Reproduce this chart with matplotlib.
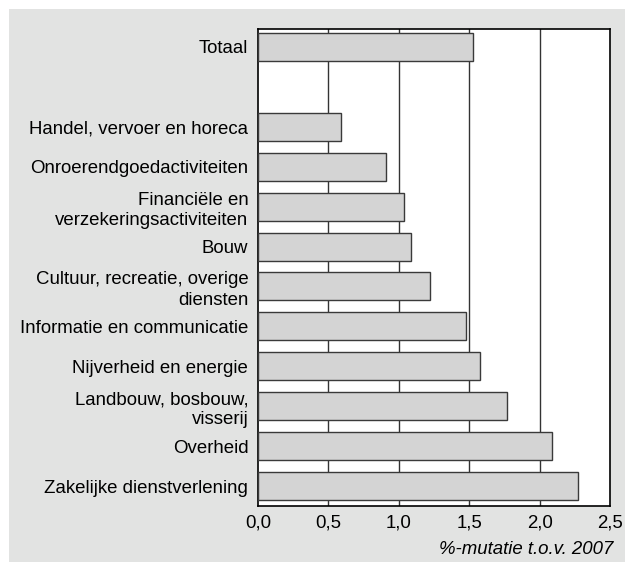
import matplotlib.pyplot as plt
import matplotlib.patches as mpatches

categories = ['Totaal', '',
              'Handel, vervoer en horeca',
              'Onroerendgoedactiviteiten',
              'Financiële en\nverzekeringsactiviteiten',
              'Bouw',
              'Cultuur, recreatie, overige\ndiensten',
              'Informatie en communicatie',
              'Nijverheid en energie',
              'Landbouw, bosbouw,\nvisserij',
              'Overheid',
              'Zakelijke dienstverlening']
values = [1.53, None, 0.59, 0.91, 1.04, 1.09, 1.22, 1.48, 1.58, 1.77, 2.09, 2.27]
xticks = [0.0, 0.5, 1.0, 1.5, 2.0, 2.5]
xticklabels = ['0,0', '0,5', '1,0', '1,5', '2,0', '2,5']

plt.rcParams['font.family'] = ['Liberation Sans', 'DejaVu Sans']

fig = plt.figure(figsize=(6.25, 5.62), dpi=100, facecolor='white')
# grijs paneel achter de grafiek
fig.patches.append(mpatches.Rectangle((9 / 625, 0), 1, 1 - 9 / 562, transform=fig.transFigure,
                                      facecolor='#e2e3e2', edgecolor='none', zorder=-10))

ax = fig.add_axes([258 / 625, 1 - 506 / 562, 352 / 625, 477 / 562])
ax.set_facecolor('white')

pos = [i for i, v in enumerate(values) if v is not None]
vals = [v for v in values if v is not None]
ax.barh(pos, vals, height=0.7, color='#d4d4d4', edgecolor='#3a3a3a', linewidth=1.0, zorder=3)

for g in [0.5, 1.0, 1.5, 2.0]:
    ax.axvline(g, color='#333333', linewidth=1.0, zorder=1)

ax.set_xlim(0, 2.5)
ax.set_ylim(11.5, -0.45)
ax.set_yticks(range(len(categories)))
ax.set_yticklabels(categories, fontsize=13.4, ha='right', multialignment='right',
                   linespacing=1.25)
ax.set_xticks(xticks)
ax.set_xticklabels(xticklabels, fontsize=13.4)
ax.tick_params(length=0)
ax.tick_params(axis='x', pad=6)
ax.tick_params(axis='y', pad=7)

for s in ax.spines.values():
    s.set_color('black')
    s.set_linewidth(1.2)

fig.text(613 / 625, 1 - 549 / 562, '%-mutatie t.o.v. 2007', ha='right', va='center',
         fontsize=13.4, style='italic')

fig.savefig('out.png', dpi=100)
